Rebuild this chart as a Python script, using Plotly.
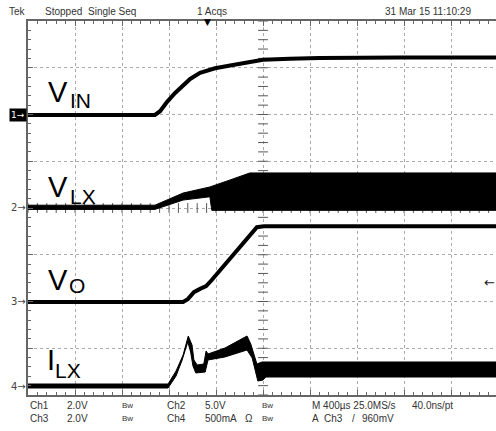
import plotly.graph_objects as go

W, H = 496, 431
# screen geometry (pixels): graticule left/bottom edge and pixels per division
GX0, GDX = 28, 47.0
GY0, GDY = 395, 46.75
XMAX = (W - GX0) / GDX  # visible divisions (right edge is cut off)

# ---------------- data (x: time in divisions, 400 us/div; y: screen divisions) -------------
# Ch1 V_IN
vin_t = [0, 2.70, 2.81, 2.96, 3.13, 3.30, 3.45, 3.66, 3.98, 4.36, 4.72, 5.00, 5.57, 6.21, 7.91, 9.96]
vin_y = [5.99, 5.99, 6.07, 6.27, 6.46, 6.63, 6.76, 6.89, 6.99, 7.06, 7.12, 7.17, 7.19, 7.21, 7.22, 7.22]

# Ch2 V_LX (envelope of switching waveform)
vlx_up_t = [0, 2.70, 3.30, 3.87, 4.30, 4.72, 9.96]
vlx_up_y = [4.06, 4.06, 4.32, 4.45, 4.60, 4.75, 4.75]
vlx_lo_t = [0, 2.70, 3.30, 3.87, 3.91, 9.96]
vlx_lo_y = [3.97, 3.97, 4.17, 4.24, 3.95, 3.95]

# Ch3 V_O
vo_t = [0, 3.30, 3.40, 3.53, 3.66, 3.79, 3.91, 4.13, 4.40, 4.68, 4.87, 5.02, 9.96]
vo_y = [1.99, 1.99, 2.05, 2.20, 2.27, 2.33, 2.46, 2.72, 3.04, 3.36, 3.59, 3.61, 3.61]

# Ch4 I_LX (envelope)
ilx_up_t = [0, 2.98, 3.15, 3.30, 3.41, 3.49, 3.53, 3.60, 3.74, 3.79, 3.83, 4.19, 4.66, 4.74, 4.87, 4.98, 9.96]
ilx_up_y = [0.235, 0.235, 0.513, 0.856, 1.262, 1.07, 0.749, 0.642, 0.663, 0.941, 0.877, 1.005, 1.262, 1.091, 0.664, 0.706, 0.706]
ilx_lo_t = [0, 2.98, 3.15, 3.28, 3.40, 3.46, 3.51, 3.57, 3.77, 3.83, 4.19, 4.66, 4.77, 4.89, 5.00, 5.06, 9.96]
ilx_lo_y = [0.150, 0.150, 0.406, 0.749, 1.134, 0.920, 0.620, 0.471, 0.492, 0.749, 0.813, 0.963, 0.791, 0.299, 0.321, 0.385, 0.385]

# channel ground markers (divisions)
ch_marks = {"1": 5.99, "2": 4.02, "3": 1.99, "4": 0.19}
trig_level = 2.40

header = [("Tek", 7), ("Stopped", 43), ("Single Seq", 86), ("1 Acqs", 195), ("31 Mar 15 11:10:29", 383)]
footer1 = [("Ch1", 28, 10), ("2.0V", 65, 10), ("Bw", 120, 8), ("Ch2", 165, 10), ("5.0V", 203, 10),
           ("Bw", 260, 8), ("M 400\u00b5s 25.0MS/s", 310, 10), ("40.0ns/pt", 410, 10)]
footer2 = [("Ch3", 28, 10), ("2.0V", 65, 10), ("Bw", 120, 8), ("Ch4", 165, 10), ("500mA", 203, 10),
           ("\u03a9", 243, 10), ("Bw", 260, 8), ("A", 310, 10), ("Ch3", 322, 10), ("/", 350, 10),
           ("960mV", 360, 10)]

# label: (main letter, subscript, x px, main y px, sub x px, sub y px)
labels = [("V", "IN", 46, 92, 68, 100),
          ("V", "LX", 46, 187, 68, 196),
          ("V", "O", 46, 280, 67, 285),
          ("I", "LX", 45, 360, 53, 370)]

FONT = "Liberation Sans, Arial, sans-serif"


def px(x):
    return x / W


def py(y):
    return 1 - y / H


fig = go.Figure()

# centre-line ticks
ticks = [i * 0.2 for i in range(0, 51)]
fig.add_trace(go.Scatter(x=[5] * 41, y=[i * 0.2 for i in range(41)], mode="markers",
                         marker=dict(symbol="line-ew", size=7, line=dict(width=1, color="#555")),
                         hoverinfo="skip", showlegend=False))
fig.add_trace(go.Scatter(x=ticks, y=[4] * len(ticks), mode="markers",
                         marker=dict(symbol="line-ns", size=7, line=dict(width=1, color="#555")),
                         hoverinfo="skip", showlegend=False))

fig.add_trace(go.Scatter(x=vin_t, y=vin_y, mode="lines", line=dict(color="black", width=4),
                         showlegend=False))
fig.add_trace(go.Scatter(x=vlx_up_t + vlx_lo_t[::-1], y=vlx_up_y + vlx_lo_y[::-1], mode="lines",
                         fill="toself", fillcolor="black", line=dict(color="black", width=1),
                         showlegend=False))
fig.add_trace(go.Scatter(x=vo_t, y=vo_y, mode="lines", line=dict(color="black", width=4),
                         showlegend=False))
fig.add_trace(go.Scatter(x=ilx_up_t + ilx_lo_t[::-1], y=ilx_up_y + ilx_lo_y[::-1], mode="lines",
                         fill="toself", fillcolor="black", line=dict(color="black", width=1),
                         showlegend=False))

ann = []
for t, x in header:
    ann.append(dict(text=t, x=px(x), y=py(11.5), xref="paper", yref="paper", xanchor="left",
                    yanchor="middle", showarrow=False, font=dict(family=FONT, size=10, color="#333")))
for row, yy in ((footer1, 405), (footer2, 418)):
    for t, x, s in row:
        ann.append(dict(text=t, x=px(x), y=py(yy), xref="paper", yref="paper", xanchor="left",
                        yanchor="middle", showarrow=False, font=dict(family=FONT, size=s, color="#333")))
for main, sub, x1, y1, x2, y2 in labels:
    ann.append(dict(text=main, x=px(x1), y=py(y1), xref="paper", yref="paper", xanchor="left",
                    yanchor="middle", showarrow=False, font=dict(family=FONT, size=29, color="black")))
    ann.append(dict(text=sub, x=px(x2), y=py(y2), xref="paper", yref="paper", xanchor="left",
                    yanchor="middle", showarrow=False, font=dict(family=FONT, size=21, color="black")))
for k, v in ch_marks.items():
    if k == "1":
        ann.append(dict(text="1\u2192", x=px(GX0 - 1), y=v, xref="paper", yref="y", xanchor="right",
                        yanchor="middle", showarrow=False, bgcolor="black", borderpad=1,
                        font=dict(family="DejaVu Sans", size=9, color="white")))
    else:
        ann.append(dict(text=k + "\u2192", x=px(GX0), y=v, xref="paper", yref="y", xanchor="right",
                        yanchor="middle", showarrow=False,
                        font=dict(family="DejaVu Sans", size=10, color="#444")))
ann.append(dict(text="\u2190", x=px(W + 1), y=trig_level, xref="paper", yref="y", xanchor="right",
                yanchor="middle", showarrow=False, font=dict(family="DejaVu Sans", size=13, color="#222")))
ann.append(dict(text="\u25bc", x=3.82, y=py(22), xref="x", yref="paper", xanchor="center",
                yanchor="middle", showarrow=False, font=dict(family="DejaVu Sans", size=9, color="black")))

axis_common = dict(showticklabels=False, zeroline=False, showline=True, linecolor="#666", linewidth=1.5,
                   ticks="inside", ticklen=5, tickcolor="#666", tickwidth=1,
                   showgrid=True, gridcolor="#aaa", griddash="dot", gridwidth=1, dtick=1, tick0=0,
                   minor=dict(ticks="inside", ticklen=3, tickcolor="#666", dtick=0.2, showgrid=False))

fig.update_layout(
    width=W, height=H, margin=dict(l=0, r=0, t=0, b=0),
    paper_bgcolor="white", plot_bgcolor="white", showlegend=False,
    xaxis=dict(domain=[px(GX0), 1], range=[0, XMAX], mirror="allticks", **axis_common),
    yaxis=dict(domain=[1 - GY0 / H, 1 - (GY0 - 8 * GDY) / H], range=[0, 8], mirror=False, **axis_common),
    annotations=ann,
)

fig.write_html("out.html")
